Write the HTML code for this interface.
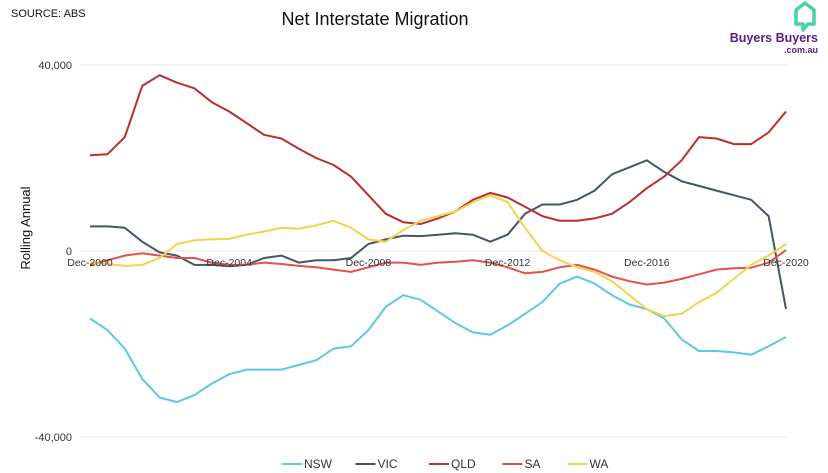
<!DOCTYPE html>
<html><head><meta charset="utf-8"><style>
body{margin:0;background:#fff;font-family:"Liberation Sans",Arial,sans-serif;}
#wrap{position:relative;width:828px;height:473px;overflow:hidden;}
</style></head><body>
<div id="wrap">
<svg id="chart" width="828" height="473">
<text x="11" y="17" font-size="11" fill="#111">SOURCE: ABS</text>
<text x="375" y="25" font-size="18" text-anchor="middle" fill="#111">Net Interstate Migration</text>
<g>
<path d="M796 10 L805 3 L814 10 L814 24 L808 24 L803 30 L803 24 L796 24 Z" fill="none" stroke="#49d2a8" stroke-width="3.5" stroke-linejoin="round"/>
<text x="818" y="42" font-size="12.5" font-weight="bold" fill="#5b1d86" text-anchor="end">Buyers Buyers</text>
<text x="818" y="53" font-size="9" font-weight="bold" fill="#5b1d86" text-anchor="end">.com.au</text>
</g>
<text transform="translate(30,228) rotate(-90)" font-size="13" text-anchor="middle" fill="#111">Rolling Annual</text>
<g id="grid"></g><g id="series"></g><g id="xlabels"></g>
<g id="legend"></g>
</svg>
</div>
<script>
const categories=["Dec-2000","Dec-2004","Dec-2008","Dec-2012","Dec-2016","Dec-2020"];
const yTicks=[40000,0,-40000];
const yTickLabels=["40,000","0","-40,000"];
const nsw=[-14.5,-17,-21,-27.5,-31.5,-32.5,-31,-28.5,-26.5,-25.5,-25.5,-25.5,-24.5,-23.5,-21,-20.5,-17,-12,-9.5,-10.5,-13,-15.5,-17.5,-18,-16,-13.5,-11,-7,-5.5,-7,-9.5,-11.5,-12.5,-14.5,-19,-21.5,-21.5,-21.8,-22.3,-20.5,-18.5];
const vic=[5.3,5.3,5.0,2,-0.3,-1,-3,-3,-3.3,-3,-1.5,-1,-2.5,-2,-2,-1.5,1.5,2.5,3.3,3.2,3.5,3.8,3.5,2,3.5,8,10,10,11,13,16.5,18,19.5,17,15,14,13,12,11,7.5,-12.5];
const qld=[20.6,20.8,24.5,35.5,37.8,36.2,35,32,30,27.5,25,24.2,22,20,18.5,16,12,8,6.2,5.8,7,8.5,11,12.5,11.5,9.5,7.5,6.5,6.5,7,8,10.5,13.5,16,19.5,24.5,24.2,23,23,25.5,30];
const sa=[-3,-2,-1,-0.5,-1,-1.5,-1.5,-2.5,-3,-3,-2.5,-2.8,-3.2,-3.5,-4,-4.5,-3.5,-2.5,-2.5,-3,-2.5,-2.3,-2,-2.5,-3.5,-4.8,-4.5,-3.5,-3,-4,-5.5,-6.5,-7.2,-6.8,-6,-5,-4,-3.7,-3.6,-2.5,0.2];
const wa=[-2.5,-2.8,-3.2,-3,-1.5,1.5,2.3,2.5,2.6,3.5,4.2,5,4.8,5.5,6.5,5,2.5,2,4.5,6.5,7.5,8.5,10.5,12,10.5,5,0,-2,-3.5,-4.5,-6.5,-9.5,-12.5,-14,-13.5,-11,-9,-6,-3,-1,1.5];
const seriesNames=["NSW","VIC","QLD","SA","WA"];
const seriesData=[nsw,vic,qld,sa,wa];
const colors=["#5ec7e6","#44546a","#b5302e","#e2524f","#f4d24c"];
const ns="http://www.w3.org/2000/svg";
const x0=90,x1=786,yTop=65,yBot=437,vMax=40000,vMin=-40000;
const nPts=41;
function xScale(i){return x0+(x1-x0)*i/(nPts-1);}
function yScale(v){return yTop+(vMax-v)/(vMax-vMin)*(yBot-yTop);}
const grid=document.getElementById('grid');
yTicks.forEach((t,k)=>{
 const l=document.createElementNS(ns,'line');
 l.setAttribute('x1',80);l.setAttribute('x2',787);
 l.setAttribute('y1',yScale(t));l.setAttribute('y2',yScale(t));
 l.setAttribute('stroke','#e4e4e4');l.setAttribute('stroke-width',1);
 
 
 grid.appendChild(l);
 const tx=document.createElementNS(ns,'text');
 tx.setAttribute('x',72);tx.setAttribute('y',yScale(t)+4);
 tx.setAttribute('text-anchor','end');tx.setAttribute('font-size','11');tx.setAttribute('fill','#333');
 tx.textContent=yTickLabels[k];
 
 
 grid.appendChild(tx);
});
const sg=document.getElementById('series');
seriesData.forEach((d,s)=>{
 const p=document.createElementNS(ns,'polyline');
 p.setAttribute('points',d.map((v,i)=>xScale(i*(nPts-1)/(d.length-1)).toFixed(1)+','+yScale(v*1000).toFixed(1)).join(' '));
 p.setAttribute('fill','none');p.setAttribute('stroke',colors[s]);p.setAttribute('stroke-width',2);
 p.setAttribute('stroke-linejoin','round');
 
 
 sg.appendChild(p);
});
const xl=document.getElementById('xlabels');
categories.forEach((c,k)=>{
 const tx=document.createElementNS(ns,'text');
 tx.setAttribute('x',xScale(k*8));tx.setAttribute('y',266);
 tx.setAttribute('text-anchor','middle');tx.setAttribute('font-size','10.5');tx.setAttribute('fill','#333');
 tx.textContent=c;
 
 
 xl.appendChild(tx);
});
const lg=document.getElementById('legend');
let lx=282;
seriesNames.forEach((n,s)=>{
 const l=document.createElementNS(ns,'line');
 l.setAttribute('x1',lx);l.setAttribute('x2',lx+20);l.setAttribute('y1',464);l.setAttribute('y2',464);
 l.setAttribute('stroke',colors[s]);l.setAttribute('stroke-width',2);
 
 
 lg.appendChild(l);
 const tx=document.createElementNS(ns,'text');
 tx.setAttribute('x',lx+22);tx.setAttribute('y',468);tx.setAttribute('font-size','12');tx.setAttribute('fill','#333');
 tx.textContent=n;
 
 
 lg.appendChild(tx);
 lx+=22+n.length*8.5+26;
});
</script>
</body></html>
